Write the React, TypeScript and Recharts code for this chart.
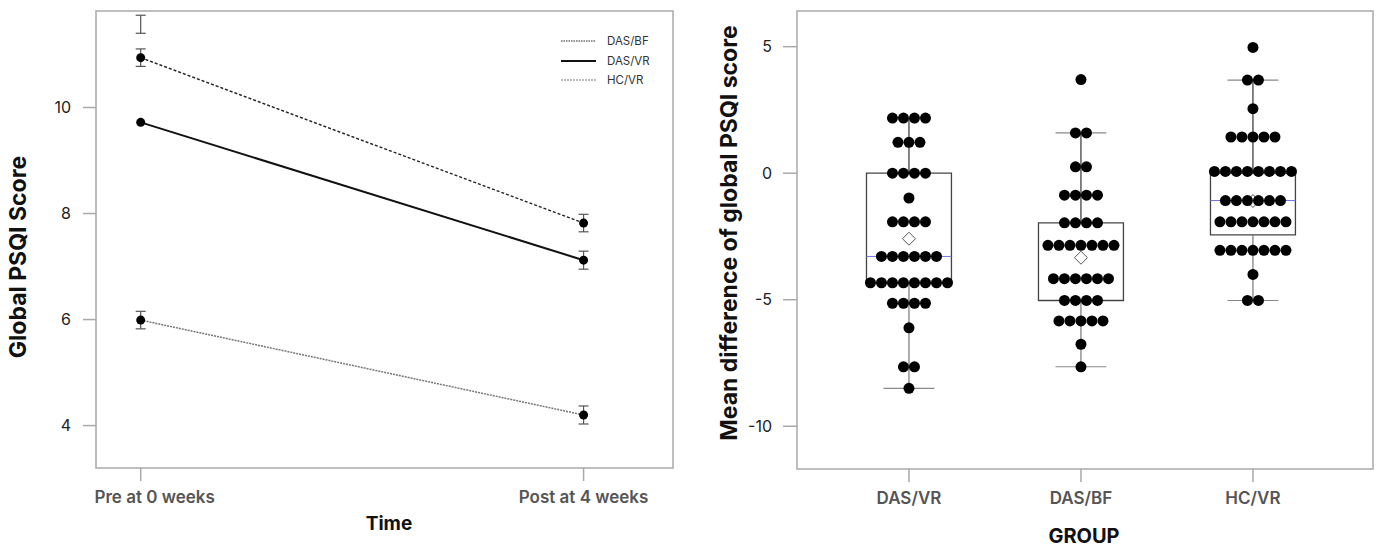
import React from 'react';
import {
  LineChart,
  Line,
  XAxis,
  YAxis,
  ErrorBar,
  Legend,
  ReferenceArea,
  ReferenceLine,
  ReferenceDot,
  ScatterChart,
  Scatter,
} from 'recharts';

// ---------- Left panel data ----------
const timeLabels = ['Pre at 0 weeks', 'Post at 4 weeks'];
const timeIndex = [0, 1];
const dasBfMeans = [10.94, 7.82];
const dasBfSe = [0.165, 0.165];
const dasVrMeans = [9.72, 7.12];
const dasVrSe = [null, 0.17];
const hcVrMeans = [5.99, 4.2];
const hcVrSe = [0.165, 0.17];
const unmatchedBarCenter = [11.57, null];
const unmatchedBarSe = [0.17, null];
const leftYTicks = [4, 6, 8, 10];
const leftYDomain = [3.2, 11.82];
const leftXDomain = [-0.1009, 1.2019];

// ---------- Right panel data ----------
const groups = ['DAS/VR', 'DAS/BF', 'HC/VR'];
const groupPositions = [1, 2, 3];
const dasVrDiff = [
  2.18, 2.18, 2.18, 2.18,
  1.22, 1.22, 1.22,
  0, 0, 0, 0,
  -0.98,
  -1.92, -1.92, -1.92, -1.92,
  -3.29, -3.29, -3.29, -3.29, -3.29, -3.29,
  -4.33, -4.33, -4.33, -4.33, -4.33, -4.33, -4.33, -4.33,
  -5.14, -5.14, -5.14, -5.14,
  -6.11,
  -7.65, -7.65,
  -8.5,
];
const dasBfDiff = [
  3.7,
  1.59, 1.59,
  0.25, 0.25,
  -0.87, -0.87, -0.87, -0.87,
  -1.96, -1.96, -1.96, -1.96,
  -2.85, -2.85, -2.85, -2.85, -2.85, -2.85, -2.85,
  -4.17, -4.17, -4.17, -4.17, -4.17, -4.17,
  -5.03, -5.03, -5.03, -5.03,
  -5.84, -5.84, -5.84, -5.84, -5.84,
  -6.76,
  -7.65,
];
const hcVrDiff = [
  4.97,
  3.68, 3.68,
  2.55,
  1.43, 1.43, 1.43, 1.43, 1.43,
  0.07, 0.07, 0.07, 0.07, 0.07, 0.07, 0.07, 0.07,
  -1.08, -1.08, -1.08, -1.08, -1.08, -1.08,
  -1.92, -1.92, -1.92, -1.92, -1.92, -1.92, -1.92,
  -3.05, -3.05, -3.05, -3.05, -3.05, -3.05, -3.05,
  -4.0,
  -5.03, -5.03,
];
const boxQ1 = [-4.33, -5.03, -2.44];
const boxMedian = [-3.29, -1.96, -1.08];
const boxQ3 = [0, -1.96, 0];
const whiskerLow = [-8.5, -7.65, -5.03];
const whiskerHigh = [2.18, 1.59, 3.68];
const groupMean = [-2.59, -3.34, -1.1];
const showTopCap = [false, true, true];
const rightYTicks = [-10, -5, 0, 5];
const rightYDomain = [-11.69, 6.41];
const rightXDomain = [0.349, 3.698];

// layout constants (in x-axis units)
const DOT_STEP = 0.064;
const BOX_HALF = 0.247;
const CAP_HALF = 0.148;

const FONT = 'Inter, "Noto Sans", sans-serif';
const FRAME = '#a9a9a9';

const lineData = timeIndex.map((t, i) => ({
  t,
  dasBf: dasBfMeans[i],
  dasBfSe: dasBfSe[i],
  dasVr: dasVrMeans[i],
  dasVrSe: dasVrSe[i],
  hcVr: hcVrMeans[i],
  hcVrSe: hcVrSe[i],
  extra: unmatchedBarCenter[i],
  extraSe: unmatchedBarSe[i],
}));

const groupValues = [dasVrDiff, dasBfDiff, hcVrDiff];
const swarmData = groupValues.flatMap((vals, gi) => {
  const counts = new Map<number, number>();
  vals.forEach((v) => counts.set(v, (counts.get(v) || 0) + 1));
  const seen = new Map<number, number>();
  return vals.map((v) => {
    const n = counts.get(v) as number;
    const k = seen.get(v) || 0;
    seen.set(v, k + 1);
    return { x: groupPositions[gi] + (k - (n - 1) / 2) * DOT_STEP, y: v };
  });
});

const legendStyles: Record<string, { stroke: string; width: number; dash?: string }> = {
  dasBf: { stroke: '#222', width: 1.2, dash: '1.5 1' },
  dasVr: { stroke: '#111', width: 2 },
  hcVr: { stroke: '#777', width: 1.2, dash: '2 1' },
};

const renderLegend = (props: any) => {
  const items = (props.payload || []).filter((p: any) => p.type !== 'none' && legendStyles[p.dataKey]);
  return (
    <div style={{ display: 'flex', flexDirection: 'column', fontFamily: FONT }}>
      {items.map((p: any) => {
        const s = legendStyles[p.dataKey];
        return (
          <div key={p.value} style={{ display: 'flex', alignItems: 'center', height: 19.5 }}>
            <svg width={36} height={6} style={{ display: 'block' }}>
              <line x1={0} y1={3} x2={35} y2={3} stroke={s.stroke} strokeWidth={s.width} strokeDasharray={s.dash} />
            </svg>
            <span style={{ marginLeft: 10, fontSize: 11.5, color: '#333', lineHeight: '12px' }}>{p.value}</span>
          </div>
        );
      })}
    </div>
  );
};

const makeXTick = (labelFor: (v: number) => string, firstShift: number) => (props: any) => {
  const { x, y, payload, index } = props;
  return (
    <text
      x={x + (index === 0 ? firstShift : 0)}
      y={y}
      dy={18}
      textAnchor="middle"
      fill="#555"
      fontSize={17}
      fontWeight={600}
      fontFamily={FONT}
    >
      {labelFor(payload.value)}
    </text>
  );
};

const diamond = (props: any) => {
  const { cx, cy } = props;
  const h = 6.5;
  return (
    <polygon
      points={`${cx},${cy - h} ${cx + h},${cy} ${cx},${cy + h} ${cx - h},${cy}`}
      fill="#fff"
      stroke="#555"
      strokeWidth={1}
    />
  );
};

const blackDot = (props: any) => <circle cx={props.cx} cy={props.cy} r={5.5} fill="#000" />;

const titleStyle: React.CSSProperties = {
  position: 'absolute',
  fontFamily: FONT,
  fontWeight: 700,
  color: '#111',
  whiteSpace: 'nowrap',
  lineHeight: 1,
};

export default function App() {
  return (
    <div style={{ position: 'absolute', left: 0, top: 0, width: 1378, height: 547, background: '#fff', fontFamily: FONT }}>
      {/* Left panel */}
      <div style={{ position: 'absolute', left: 0, top: 0 }}>
        <LineChart width={700} height={547} data={lineData} margin={{ top: 11, right: 27, bottom: 0, left: 0 }}>
          <XAxis
            dataKey="t"
            type="number"
            domain={leftXDomain}
            ticks={timeIndex}
            allowDataOverflow
            height={79}
            axisLine={false}
            tickLine={{ stroke: FRAME, strokeWidth: 1.5 }}
            tickSize={13}
            tickMargin={4}
            tick={makeXTick((v) => timeLabels[v], 14)}
            interval={0}
          />
          <YAxis
            type="number"
            domain={leftYDomain}
            ticks={leftYTicks}
            allowDataOverflow
            width={96}
            axisLine={false}
            tickLine={{ stroke: FRAME, strokeWidth: 1.5 }}
            tickSize={13}
            tickMargin={12}
            tick={{ fill: '#222', fontSize: 16, fontFamily: FONT }}
            interval={0}
          />
          <ReferenceArea
            x1={leftXDomain[0]}
            x2={leftXDomain[1]}
            y1={leftYDomain[0]}
            y2={leftYDomain[1]}
            fill="none"
            stroke={FRAME}
            strokeWidth={1.5}
            ifOverflow="visible"
          />
          <Line
            dataKey="dasBf"
            name="DAS/BF"
            stroke="#222"
            strokeWidth={1.5}
            strokeDasharray="3 2"
            dot={{ r: 4.5, fill: '#000', stroke: 'none' }}
            activeDot={false}
            isAnimationActive={false}
          >
            <ErrorBar dataKey="dasBfSe" width={5} stroke="#555" strokeWidth={1.2} direction="y" />
          </Line>
          <Line
            dataKey="dasVr"
            name="DAS/VR"
            stroke="#111"
            strokeWidth={2}
            dot={{ r: 4.5, fill: '#000', stroke: 'none' }}
            activeDot={false}
            isAnimationActive={false}
          >
            <ErrorBar dataKey="dasVrSe" width={5} stroke="#555" strokeWidth={1.2} direction="y" />
          </Line>
          <Line
            dataKey="hcVr"
            name="HC/VR"
            stroke="#777"
            strokeWidth={1.5}
            strokeDasharray="2 1"
            dot={{ r: 4.5, fill: '#000', stroke: 'none' }}
            activeDot={false}
            isAnimationActive={false}
          >
            <ErrorBar dataKey="hcVrSe" width={5} stroke="#555" strokeWidth={1.2} direction="y" />
          </Line>
          <Line
            dataKey="extra"
            stroke="none"
            dot={false}
            activeDot={false}
            legendType="none"
            isAnimationActive={false}
          >
            <ErrorBar dataKey="extraSe" width={5} stroke="#555" strokeWidth={1.2} direction="y" />
          </Line>
          <Legend
            layout="vertical"
            align="center"
            verticalAlign="middle"
            content={renderLegend}
            wrapperStyle={{ top: 31.5, left: 561, width: 'auto', height: 'auto' }}
          />
        </LineChart>
      </div>

      {/* Right panel */}
      <div style={{ position: 'absolute', left: 700, top: 0 }}>
        <ScatterChart width={678} height={547} margin={{ top: 11, right: 5, bottom: 0, left: 0 }}>
          <XAxis
            dataKey="x"
            type="number"
            domain={rightXDomain}
            ticks={groupPositions}
            allowDataOverflow
            height={78}
            axisLine={false}
            tickLine={{ stroke: FRAME, strokeWidth: 1.5 }}
            tickSize={13}
            tickMargin={4}
            tick={makeXTick((v) => groups[v - 1], 0)}
            interval={0}
          />
          <YAxis
            dataKey="y"
            type="number"
            domain={rightYDomain}
            ticks={rightYTicks}
            allowDataOverflow
            width={97}
            axisLine={false}
            tickLine={{ stroke: FRAME, strokeWidth: 1.5 }}
            tickSize={14}
            tickMargin={11}
            tick={{ fill: '#222', fontSize: 16, fontFamily: FONT }}
            interval={0}
          />
          <ReferenceArea
            x1={rightXDomain[0]}
            x2={rightXDomain[1]}
            y1={rightYDomain[0]}
            y2={rightYDomain[1]}
            fill="none"
            stroke={FRAME}
            strokeWidth={1.5}
            ifOverflow="visible"
          />
          {groupPositions.map((g, i) => (
            <ReferenceLine
              key={`wh${i}`}
              segment={[{ x: g, y: whiskerHigh[i] }, { x: g, y: boxQ3[i] }]}
              stroke="#333"
              strokeWidth={1.2}
              ifOverflow="visible"
            />
          ))}
          {groupPositions.map((g, i) => (
            <ReferenceLine
              key={`wl${i}`}
              segment={[{ x: g, y: boxQ1[i] }, { x: g, y: whiskerLow[i] }]}
              stroke="#777"
              strokeWidth={1.2}
              ifOverflow="visible"
            />
          ))}
          {groupPositions.map((g, i) => (
            <ReferenceLine
              key={`cl${i}`}
              segment={[{ x: g - CAP_HALF, y: whiskerLow[i] }, { x: g + CAP_HALF, y: whiskerLow[i] }]}
              stroke="#888"
              strokeWidth={1.2}
              ifOverflow="visible"
            />
          ))}
          {groupPositions
            .filter((_, i) => showTopCap[i])
            .map((g) => {
              const i = groupPositions.indexOf(g);
              return (
                <ReferenceLine
                  key={`ch${i}`}
                  segment={[{ x: g - CAP_HALF, y: whiskerHigh[i] }, { x: g + CAP_HALF, y: whiskerHigh[i] }]}
                  stroke="#888"
                  strokeWidth={1.2}
                  ifOverflow="visible"
                />
              );
            })}
          {groupPositions
            .filter((_, i) => boxMedian[i] !== boxQ3[i] && boxMedian[i] !== boxQ1[i])
            .map((g) => {
              const i = groupPositions.indexOf(g);
              return (
                <ReferenceLine
                  key={`md${i}`}
                  segment={[{ x: g - BOX_HALF, y: boxMedian[i] }, { x: g + BOX_HALF, y: boxMedian[i] }]}
                  stroke="#7373e6"
                  strokeWidth={1}
                  ifOverflow="visible"
                />
              );
            })}
          {groupPositions.map((g, i) => (
            <ReferenceArea
              key={`bx${i}`}
              x1={g - BOX_HALF}
              x2={g + BOX_HALF}
              y1={boxQ1[i]}
              y2={boxQ3[i]}
              fill="none"
              stroke="#444"
              strokeWidth={1.3}
              ifOverflow="visible"
            />
          ))}
          {groupPositions.map((g, i) => (
            <ReferenceDot key={`mn${i}`} x={g} y={groupMean[i]} r={6} shape={diamond} ifOverflow="visible" />
          ))}
          <Scatter data={swarmData} dataKey="y" shape={blackDot} isAnimationActive={false} />
        </ScatterChart>
      </div>

      {/* Axis titles */}
      <div style={{ ...titleStyle, left: 18, top: 257, fontSize: 23, transform: 'translate(-50%, -50%) rotate(-90deg)' }}>
        Global PSQI Score
      </div>
      <div style={{ ...titleStyle, left: 389, top: 523, fontSize: 19, transform: 'translate(-50%, -50%)' }}>Time</div>
      <div style={{ ...titleStyle, left: 729, top: 233, fontSize: 23, transform: 'translate(-50%, -50%) rotate(-90deg)' }}>
        Mean difference of global PSQI score
      </div>
      <div style={{ ...titleStyle, left: 1084, top: 535.5, fontSize: 20, transform: 'translate(-50%, -50%)' }}>GROUP</div>
    </div>
  );
}
